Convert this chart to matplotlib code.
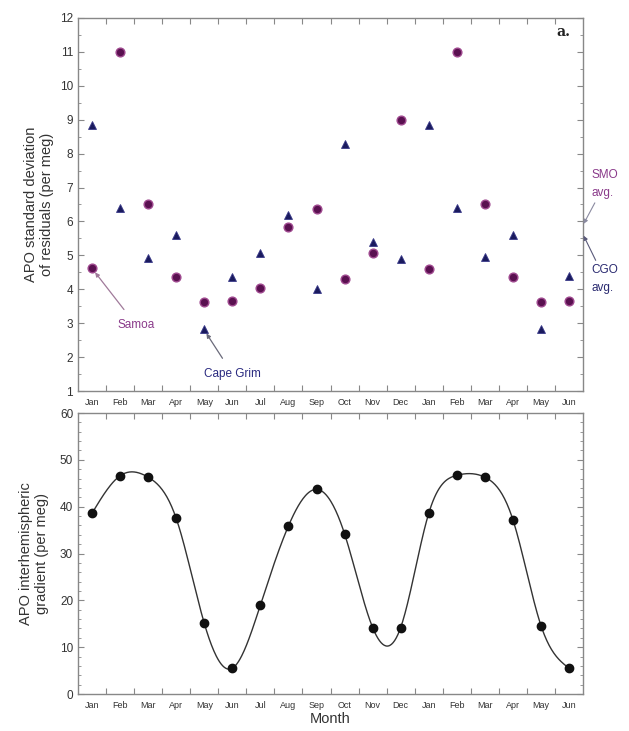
import numpy as np
import matplotlib
matplotlib.use("Agg")
import matplotlib.pyplot as plt
from matplotlib.ticker import MultipleLocator, FixedLocator

plt.rcParams['font.family'] = ['Liberation Sans', 'DejaVu Sans']

months = ["Jan", "Feb", "Mar", "Apr", "May", "Jun", "Jul", "Aug", "Sep", "Oct",
          "Nov", "Dec", "Jan", "Feb", "Mar", "Apr", "May", "Jun"]
samoa = [4.63, 11.0, 6.5, 4.37, 3.63, 3.66, 4.04, 5.85, 6.38, 4.31, 5.08, 8.98,
         4.6, 11.0, 6.5, 4.37, 3.63, 3.66]
cape_grim = [8.83, 6.4, 4.93, 5.6, 2.83, 4.37, 5.07, 6.2, 4.02, 8.27, 5.4, 4.89,
             8.85, 6.41, 4.95, 5.6, 2.83, 4.4]
gradient = [38.6, 46.6, 46.3, 37.5, 15.1, 5.5, 19.0, 35.9, 43.7, 34.2, 14.2, 14.2,
            38.6, 46.7, 46.3, 37.2, 14.6, 5.5]
smo_avg = 5.93
cgo_avg = 5.58

x = np.arange(len(months)) + 0.5


def natural_spline(xk, yk, xs):
    xk = np.asarray(xk, float); yk = np.asarray(yk, float)
    n = len(xk)
    h = np.diff(xk)
    A = np.zeros((n, n)); b = np.zeros(n)
    A[0, 0] = 1; A[-1, -1] = 1
    for i in range(1, n - 1):
        A[i, i - 1] = h[i - 1]
        A[i, i] = 2 * (h[i - 1] + h[i])
        A[i, i + 1] = h[i]
        b[i] = 3 * ((yk[i + 1] - yk[i]) / h[i] - (yk[i] - yk[i - 1]) / h[i - 1])
    c = np.linalg.solve(A, b)
    bb = np.zeros(n - 1); d = np.zeros(n - 1)
    for i in range(n - 1):
        bb[i] = (yk[i + 1] - yk[i]) / h[i] - h[i] * (2 * c[i] + c[i + 1]) / 3
        d[i] = (c[i + 1] - c[i]) / (3 * h[i])
    idx = np.clip(np.searchsorted(xk, xs) - 1, 0, n - 2)
    dx = xs - xk[idx]
    return yk[idx] + bb[idx] * dx + c[idx] * dx ** 2 + d[idx] * dx ** 3


fig = plt.figure(figsize=(6.29, 7.31), dpi=100)
ax1 = fig.add_axes([0.124, 0.4651, 0.803, 0.5103])
ax2 = fig.add_axes([0.124, 0.0506, 0.803, 0.3844])

axcol = '#888888'
for ax in (ax1, ax2):
    ax.set_xlim(0, 18)
    ax.xaxis.set_major_locator(FixedLocator(np.arange(1, 18)))
    ax.xaxis.set_minor_locator(FixedLocator(x))
    ax.set_xticklabels([])
    ax.set_xticklabels(months, minor=True)
    ax.tick_params(axis='x', which='major', direction='in', length=4, top=True,
                   color=axcol, labelbottom=False)
    ax.tick_params(axis='x', which='minor', length=0, labelsize=6.5, pad=5,
                   labelcolor='#333333')
    ax.tick_params(axis='y', which='both', direction='in', right=True,
                   color=axcol, labelsize=8.5, labelcolor='#333333')
    ax.tick_params(axis='y', which='major', length=4)
    ax.tick_params(axis='y', which='minor', length=2)
    for s in ax.spines.values():
        s.set_color(axcol)
        s.set_linewidth(1.0)

# Top panel
ax1.set_ylim(1, 12)
ax1.yaxis.set_major_locator(MultipleLocator(1))
ax1.yaxis.set_minor_locator(MultipleLocator(0.5))
ax1.plot(x, samoa, 'o', ms=6.3, mfc='#5a1050', mec='#a04a90', mew=1.0, ls='none')
ax1.plot(x, cape_grim, '^', ms=5.5, mfc='#1a1a5e', mec='#3a3a8a', mew=0.6, ls='none')
ax1.set_ylabel("APO standard deviation\nof residuals (per meg)", fontsize=10.5,
               color='#333333', labelpad=4)
ax1.text(17.55, 11.6, "a.", fontsize=10, fontweight='bold', family='DejaVu Serif',
         ha='right', va='center', color='#222222')

ax1.annotate("Samoa", xy=(x[0] + 0.08, samoa[0] - 0.1), xytext=(1.4, 2.95),
             fontsize=8.5, color='#8a3a8a', ha='left', va='center',
             arrowprops=dict(arrowstyle='-|>', color='#a07a9a', lw=0.9,
                             mutation_scale=6, shrinkA=6, shrinkB=1))
ax1.annotate("Cape Grim", xy=(x[4] + 0.05, cape_grim[4] - 0.1), xytext=(4.5, 1.5),
             fontsize=8.5, color='#2a2a80', ha='left', va='center',
             arrowprops=dict(arrowstyle='-|>', color='#6a6a7a', lw=0.9,
                             mutation_scale=6, shrinkA=6, shrinkB=1))
ax1.annotate("SMO\navg.", xy=(18.02, smo_avg), xytext=(18.3, 7.1),
             fontsize=8.5, color='#8a3a8a', ha='left', va='center',
             annotation_clip=False, linespacing=1.6,
             arrowprops=dict(arrowstyle='-|>', color='#8a8aa0', lw=0.8,
                             mutation_scale=6, shrinkA=1, shrinkB=0))
ax1.annotate("CGO\navg.", xy=(18.02, cgo_avg), xytext=(18.3, 4.3),
             fontsize=8.5, color='#2a2a70', ha='left', va='center',
             annotation_clip=False, linespacing=1.6,
             arrowprops=dict(arrowstyle='-|>', color='#5a5a7a', lw=0.8,
                             mutation_scale=6, shrinkA=1, shrinkB=0))

# Bottom panel
ax2.set_ylim(0, 60)
ax2.yaxis.set_major_locator(MultipleLocator(10))
ax2.yaxis.set_minor_locator(MultipleLocator(2))
xs = np.linspace(x[0], x[-1], 600)
ax2.plot(xs, natural_spline(x, gradient, xs), '-', color='#333333', lw=1.0)
ax2.plot(x, gradient, 'o', ms=6.0, mfc='#111111', mec='#111111', ls='none')
ax2.set_ylabel("APO interhemispheric\ngradient (per meg)", fontsize=10.5,
               color='#333333', labelpad=8)
ax2.set_xlabel("Month", fontsize=10.5, color='#333333', labelpad=1)
ax2.xaxis.set_label_coords(0.5, -0.065)

fig.savefig("out.png", dpi=100, facecolor='white')
